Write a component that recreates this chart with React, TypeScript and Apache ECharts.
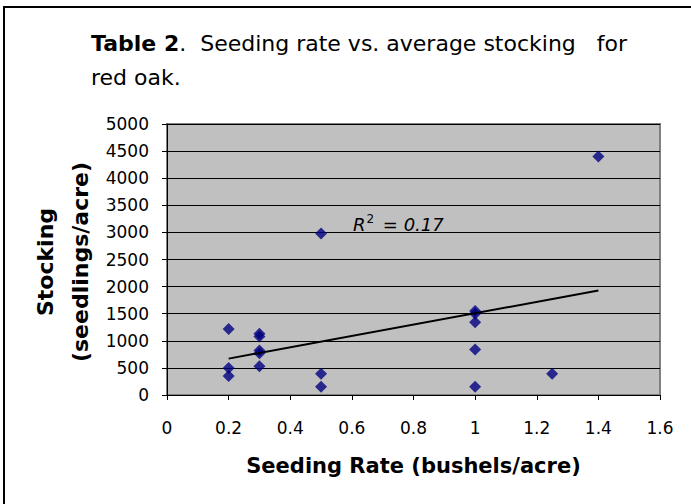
import React, { useEffect, useRef } from "react";
import * as echarts from "echarts";

const seedingRate: number[] = [0.2, 0.2, 0.2, 0.3, 0.3, 0.3, 0.3, 0.3, 0.5, 0.5, 0.5, 1, 1, 1, 1, 1, 1.25, 1.4];
const stocking: number[] = [1220, 500, 350, 1130, 1080, 820, 770, 530, 2980, 390, 150, 1550, 1500, 1340, 840, 150, 390, 4400];
const titleBold = "Table 2";
const titleRest = ".  Seeding rate vs. average stocking   for";
const titleLine2 = "red oak.";
const xAxisName = "Seeding Rate (bushels/acre)";
const yAxisNameLines = ["Stocking", "(seedlings/acre)"];
const rSquaredText = "0.17";

const FONT = "'DejaVu Sans', sans-serif";

function regression(xs: number[], ys: number[]) {
  const n = xs.length;
  const mx = xs.reduce((a, b) => a + b, 0) / n;
  const my = ys.reduce((a, b) => a + b, 0) / n;
  let sxy = 0, sxx = 0;
  for (let i = 0; i < n; i++) {
    sxy += (xs[i] - mx) * (ys[i] - my);
    sxx += (xs[i] - mx) * (xs[i] - mx);
  }
  const slope = sxy / sxx;
  return { slope, intercept: my - slope * mx };
}

export default function App() {
  const ref = useRef<HTMLDivElement>(null);
  useEffect(() => {
    if (!ref.current) return;
    const chart = echarts.init(ref.current, undefined, { renderer: "svg" });
    const { slope, intercept } = regression(seedingRate, stocking);
    const xMin = Math.min(...seedingRate);
    const xMax = Math.max(...seedingRate);
    const trend = [
      [xMin, intercept + slope * xMin],
      [xMax, intercept + slope * xMax],
    ];
    chart.setOption({
      animation: false,
      backgroundColor: "#ffffff",
      title: {
        left: 86,
        top: 21,
        text: `{b|${titleBold}}{n|${titleRest}}\n{n|${titleLine2}}`,
        textStyle: {
          rich: {
            b: { fontFamily: FONT, fontSize: 22, fontWeight: "bold", color: "#000", lineHeight: 34 },
            n: { fontFamily: FONT, fontSize: 22, fontWeight: "normal", color: "#000", lineHeight: 34 },
          },
        },
      },
      grid: {
        left: 167,
        right: 31,
        top: 124,
        bottom: 109,
        show: true,
        backgroundColor: "#C0C0C0",
        borderColor: "#808080",
        borderWidth: 2,
      },
      xAxis: {
        type: "value",
        min: 0,
        max: 1.6,
        interval: 0.2,
        name: xAxisName,
        nameLocation: "middle",
        nameGap: 60,
        nameTextStyle: { fontFamily: FONT, fontSize: 21, fontWeight: "bold", color: "#000" },
        axisLine: { show: true, lineStyle: { color: "#000", width: 1 } },
        axisTick: { show: true, inside: false, length: 5, lineStyle: { color: "#000" } },
        axisLabel: {
          margin: 24,
          fontFamily: FONT,
          fontSize: 17,
          color: "#000",
          formatter: (v: number) => String(+v.toFixed(1)),
        },
        splitLine: { show: false },
      },
      yAxis: {
        type: "value",
        min: 0,
        max: 5000,
        interval: 500,
        axisLine: { show: true, lineStyle: { color: "#000", width: 1 } },
        axisTick: { show: true, inside: false, length: 5, lineStyle: { color: "#000" } },
        axisLabel: {
          margin: 18,
          fontFamily: FONT,
          fontSize: 17,
          color: "#000",
          formatter: (v: number) => String(v),
        },
        splitLine: { show: true, lineStyle: { color: "#000", width: 1 } },
      },
      graphic: [
        {
          type: "rect",
          silent: true,
          shape: { x: 4, y: 7, width: 900, height: 700 },
          style: { fill: "none", stroke: "#000", lineWidth: 2 },
        },
        ...yAxisNameLines.map((t, i) => ({
          type: "text",
          x: 45 + i * 35,
          y: 262,
          rotation: Math.PI / 2,
          style: {
            text: t,
            fontFamily: FONT,
            fontSize: 22,
            fontWeight: "bold",
            fill: "#000",
            align: "center",
            verticalAlign: "middle",
          },
        })),
        {
          type: "text",
          x: 353,
          y: 223,
          z: 10,
          style: {
            text: `{i|R}{s|2}{i| = ${rSquaredText}}`,
            verticalAlign: "middle",
            rich: {
              i: { fontFamily: FONT, fontSize: 18, fontStyle: "italic", fill: "#000", verticalAlign: "bottom" },
              s: { fontFamily: FONT, fontSize: 12, fill: "#000", padding: [0, 3, 8, 1], verticalAlign: "bottom" },
            },
          },
        },
      ],
      series: [
        {
          type: "scatter",
          symbol: "diamond",
          symbolSize: 12,
          itemStyle: { color: "#000080" },
          data: seedingRate.map((x, i) => [x, stocking[i]]),
          z: 3,
        },
        {
          type: "line",
          data: trend,
          symbol: "none",
          lineStyle: { color: "#000", width: 2 },
          z: 4,
        },
      ],
    });
    return () => chart.dispose();
  }, []);
  return (
    <div
      ref={ref}
      style={{ position: "fixed", left: 0, top: 0, width: 691, height: 504 }}
    />
  );
}
